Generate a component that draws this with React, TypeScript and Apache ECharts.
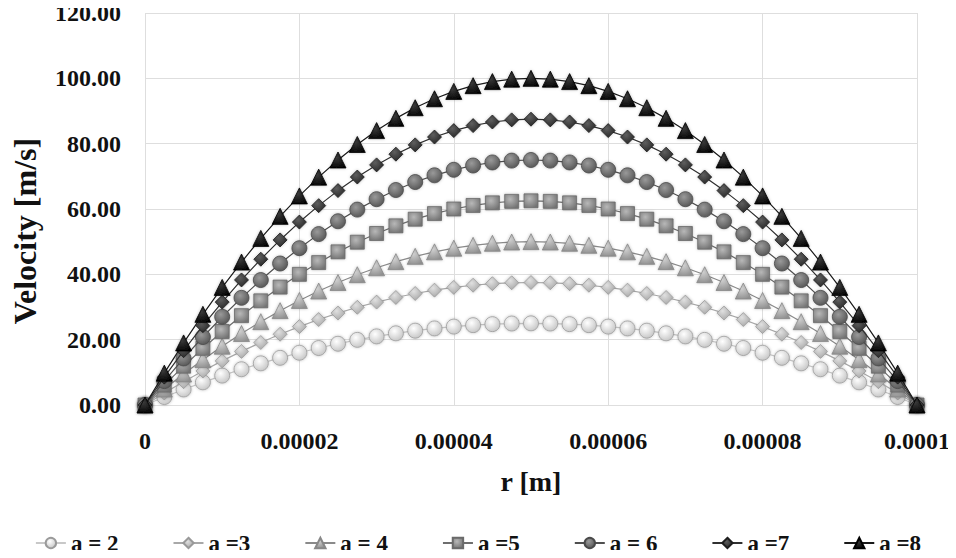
import React, { useEffect, useRef } from "react";
import * as echarts from "echarts";

const rValues = [
  0, 0.0000025, 0.000005, 0.0000075, 0.00001, 0.0000125, 0.000015, 0.0000175, 0.00002, 0.0000225,
  0.000025, 0.0000275, 0.00003, 0.0000325, 0.000035, 0.0000375, 0.00004, 0.0000425, 0.000045, 0.0000475,
  0.00005, 0.0000525, 0.000055, 0.0000575, 0.00006, 0.0000625, 0.000065, 0.0000675, 0.00007, 0.0000725,
  0.000075, 0.0000775, 0.00008, 0.0000825, 0.000085, 0.0000875, 0.00009, 0.0000925, 0.000095, 0.0000975,
  0.0001,
];

const a2 = [0, 2.44, 4.75, 6.94, 9, 10.94, 12.75, 14.44, 16, 17.44, 18.75, 19.94, 21, 21.94, 22.75, 23.44, 24, 24.44, 24.75, 24.94, 25, 24.94, 24.75, 24.44, 24, 23.44, 22.75, 21.94, 21, 19.94, 18.75, 17.44, 16, 14.44, 12.75, 10.94, 9, 6.94, 4.75, 2.44, 0];
const a3 = [0, 3.66, 7.13, 10.41, 13.5, 16.41, 19.13, 21.66, 24, 26.16, 28.13, 29.91, 31.5, 32.91, 34.13, 35.16, 36, 36.66, 37.13, 37.41, 37.5, 37.41, 37.13, 36.66, 36, 35.16, 34.13, 32.91, 31.5, 29.91, 28.13, 26.16, 24, 21.66, 19.13, 16.41, 13.5, 10.41, 7.13, 3.66, 0];
const a4 = [0, 4.88, 9.5, 13.88, 18, 21.88, 25.5, 28.88, 32, 34.88, 37.5, 39.88, 42, 43.88, 45.5, 46.88, 48, 48.88, 49.5, 49.88, 50, 49.88, 49.5, 48.88, 48, 46.88, 45.5, 43.88, 42, 39.88, 37.5, 34.88, 32, 28.88, 25.5, 21.88, 18, 13.88, 9.5, 4.88, 0];
const a5 = [0, 6.09, 11.88, 17.34, 22.5, 27.34, 31.88, 36.09, 40, 43.59, 46.88, 49.84, 52.5, 54.84, 56.88, 58.59, 60, 61.09, 61.88, 62.34, 62.5, 62.34, 61.88, 61.09, 60, 58.59, 56.88, 54.84, 52.5, 49.84, 46.88, 43.59, 40, 36.09, 31.88, 27.34, 22.5, 17.34, 11.88, 6.09, 0];
const a6 = [0, 7.31, 14.25, 20.81, 27, 32.81, 38.25, 43.31, 48, 52.31, 56.25, 59.81, 63, 65.81, 68.25, 70.31, 72, 73.31, 74.25, 74.81, 75, 74.81, 74.25, 73.31, 72, 70.31, 68.25, 65.81, 63, 59.81, 56.25, 52.31, 48, 43.31, 38.25, 32.81, 27, 20.81, 14.25, 7.31, 0];
const a7 = [0, 8.53, 16.63, 24.28, 31.5, 38.28, 44.63, 50.53, 56, 61.03, 65.63, 69.78, 73.5, 76.78, 79.63, 82.03, 84, 85.53, 86.63, 87.28, 87.5, 87.28, 86.63, 85.53, 84, 82.03, 79.63, 76.78, 73.5, 69.78, 65.63, 61.03, 56, 50.53, 44.63, 38.28, 31.5, 24.28, 16.63, 8.53, 0];
const a8 = [0, 9.75, 19, 27.75, 36, 43.75, 51, 57.75, 64, 69.75, 75, 79.75, 84, 87.75, 91, 93.75, 96, 97.75, 99, 99.75, 100, 99.75, 99, 97.75, 96, 93.75, 91, 87.75, 84, 79.75, 75, 69.75, 64, 57.75, 51, 43.75, 36, 27.75, 19, 9.75, 0];

const seriesNames = ["a = 2", "a =3", "a = 4", "a =5", "a = 6", "a =7", "a =8"];
const seriesValues = [a2, a3, a4, a5, a6, a7, a8];
const xTickLabels = ["0", "0.00002", "0.00004", "0.00006", "0.00008", "0.0001"];

const symbols = ["circle", "diamond", "triangle", "rect", "circle", "diamond", "triangle"];
const symbolSizes = [15, 14, 16, 14, 15, 14, 16];
const lightColors = ["#ffffff", "#e0e0e0", "#cfcfcf", "#b8b8b8", "#9a9a9a", "#5e5e5e", "#3a3a3a"];
const darkColors = ["#c4c4c4", "#a6a6a6", "#8f8f8f", "#737373", "#555555", "#262626", "#050505"];
const borderColors = ["#9a9a9a", "#999999", "#888888", "#6a6a6a", "#4a4a4a", "#1e1e1e", "#000000"];
const lineColors = ["#c8c8c8", "#a8a8a8", "#8a8a8a", "#6e6e6e", "#505050", "#303030", "#1a1a1a"];

const FONT = "'Liberation Serif', 'Times New Roman', serif";

export default function App() {
  const ref = useRef<HTMLDivElement>(null);
  useEffect(() => {
    if (!ref.current) return;
    const chart = echarts.init(ref.current, undefined, { renderer: "svg" });
    const series = seriesNames.map((name, k) => ({
      name,
      type: "line",
      data: rValues.map((r, i) => [r, seriesValues[k][i]]),
      symbol: symbols[k],
      symbolSize: symbolSizes[k],
      showSymbol: true,
      lineStyle: { color: lineColors[k], width: 1.2 },
      itemStyle: {
        color: {
          type: "radial",
          x: 0.4,
          y: 0.35,
          r: 0.7,
          colorStops: [
            { offset: 0, color: lightColors[k] },
            { offset: 1, color: darkColors[k] },
          ],
        },
        borderColor: borderColors[k],
        borderWidth: 0.8,
        shadowBlur: 3,
        shadowColor: "rgba(0,0,0,0.25)",
      },
      z: 2 + k,
    }));
    chart.setOption({
      animation: false,
      backgroundColor: "#ffffff",
      grid: { left: 145, right: 39, top: 13, bottom: 153 },
      xAxis: {
        type: "value",
        min: 0,
        max: 0.0001,
        interval: 0.00002,
        name: "r [m]",
        nameLocation: "middle",
        nameGap: 62,
        nameTextStyle: { fontFamily: FONT, fontWeight: "bold", fontSize: 28, color: "#111" },
        axisLine: { show: false },
        axisTick: { show: false },
        axisLabel: {
          margin: 24,
          fontFamily: FONT,
          fontWeight: "bold",
          fontSize: 24,
          color: "#111",
          formatter: (v: number) => xTickLabels[Math.round(v / 0.00002)] ?? "",
        },
        splitLine: { show: true, lineStyle: { color: "#dedede", width: 1 } },
      },
      yAxis: {
        type: "value",
        min: 0,
        max: 120,
        interval: 20,
        name: "Velocity [m/s]",
        nameLocation: "middle",
        nameGap: 104,
        nameTextStyle: {
          fontFamily: FONT,
          fontWeight: "bold",
          fontSize: 32,
          color: "#111",
          padding: [0, 44, 0, 0],
        },
        axisLine: { show: false },
        axisTick: { show: false },
        axisLabel: {
          margin: 24,
          fontFamily: FONT,
          fontWeight: "bold",
          fontSize: 24,
          color: "#111",
          formatter: (v: number) => v.toFixed(2),
        },
        splitLine: { show: true, lineStyle: { color: "#dedede", width: 1 } },
      },
      legend: {
        data: seriesNames,
        left: "center",
        top: 529,
        padding: 0,
        itemWidth: 30,
        itemHeight: 13,
        itemGap: 54,
        textStyle: { fontFamily: FONT, fontWeight: "bold", fontSize: 23, color: "#111", lineHeight: 28 },
      },
      series,
    });
    return () => chart.dispose();
  }, []);
  return <div ref={ref} style={{ width: 956, height: 558, margin: -8 }} />;
}
